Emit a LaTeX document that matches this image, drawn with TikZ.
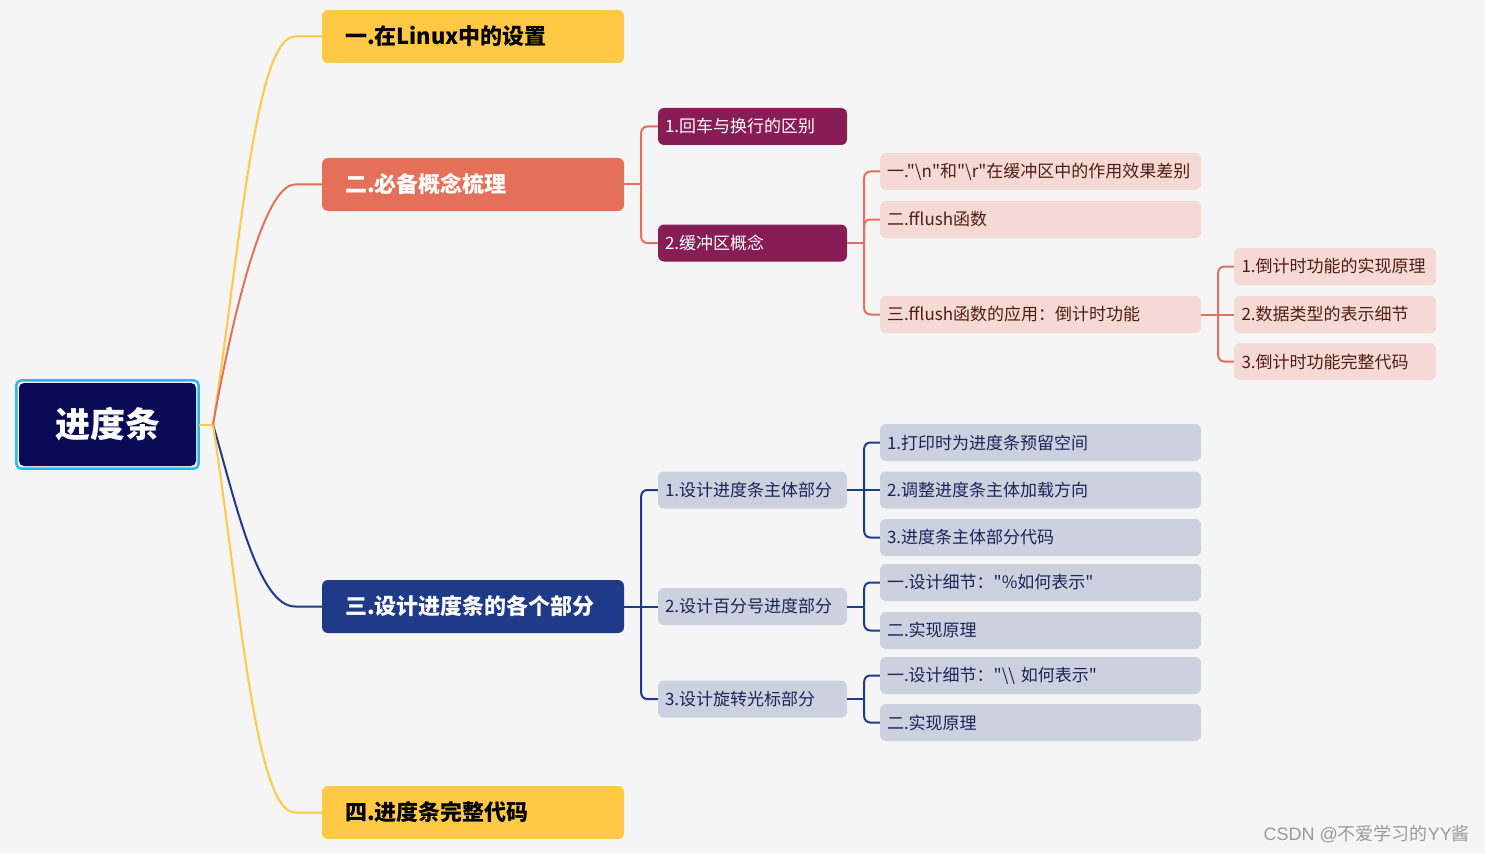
\documentclass[tikz,border=0pt]{standalone}
\usepackage{fontspec}
\setmainfont{Noto Sans CJK SC}[Ligatures=TeXOff]
\newfontfamily\wmfont{Liberation Sans}
\usetikzlibrary{calc}
\definecolor{bgc}{HTML}{F5F5F5}
\definecolor{yel}{HTML}{FFC845}
\definecolor{ora}{HTML}{E5705A}
\definecolor{pur}{HTML}{871D54}
\definecolor{pnk}{HTML}{F5D9D5}
\definecolor{pnktxt}{HTML}{4E1E14}
\definecolor{blu}{HTML}{1F3A88}
\definecolor{gry}{HTML}{CBD1DF}
\definecolor{grytxt}{HTML}{1C2458}
\definecolor{nav}{HTML}{0A0A56}
\definecolor{cya}{HTML}{2DB6F5}
\definecolor{wm}{HTML}{9A9A9A}
\begin{document}
\begin{tikzpicture}[x=1pt,y=-1pt,
  box/.style={rounded corners=6pt, inner ysep=0pt, align=left, anchor=center},
  lone/.style={box, minimum width=302pt, minimum height=53pt, text width=256pt, inner xsep=23pt, font=\fontsize{22}{26}\selectfont\bfseries},
  ltwo/.style={box, minimum width=189pt, minimum height=37pt, text width=175pt, inner xsep=7pt, font=\fontsize{17}{20}\selectfont},
  lthree/.style={box, minimum width=321pt, minimum height=37pt, text width=307pt, inner xsep=7pt, font=\fontsize{17}{20}\selectfont},
  lfour/.style={box, minimum width=202pt, minimum height=37pt, text width=187pt, inner xsep=7.5pt, font=\fontsize{17}{20}\selectfont},
  conn/.style={line width=2pt, rounded corners=6pt},
  curv/.style={line width=2pt},
]
\fill[bgc] (0,0) rectangle (1485,853);
\useasboundingbox (0,0) rectangle (1485,853);

% root
\node[box, fill=nav, minimum width=177pt, minimum height=83pt, rounded corners=5pt, text=white, align=center, font=\fontsize{35}{40}\selectfont\bfseries] (root) at (107.5,424.5) {进度条};
\draw[cya, line width=2.5pt, rounded corners=5pt] ($(root.south west)+(-2.5,2.5)$) rectangle ($(root.north east)+(2.5,-2.5)$);
\coordinate (rj) at (213,424.5);
\draw[yel, curv] ($(root.east)+(2.5,0)$) -- (rj);

% level 1
\node[lone, fill=yel, text=black] (n1) at (473,36.5) {一.在Linux中的设置};
\node[lone, fill=ora, text=white] (n2) at (473,184.5) {二.必备概念梳理};
\node[lone, fill=blu, text=white] (n3) at (473,606.5) {三.设计进度条的各个部分};
\node[lone, fill=yel, text=black] (n4) at (473,812.5) {四.进度条完整代码};

\draw[yel, curv] (rj) .. controls (240,250) and (255,36.5) .. (295,36.5) -- (n1.west);
\draw[ora, curv] (rj) .. controls (230,330) and (262,184.5) .. (295,184.5) -- (n2.west);
\draw[blu, curv] (rj) .. controls (235,500) and (258,606.5) .. (295,606.5) -- (n3.west);
\draw[yel, curv] (rj) .. controls (240,600) and (255,812.5) .. (295,812.5) -- (n4.west);

% level 2 under n2
\node[ltwo, fill=pur, text=white] (a1) at (752.5,126.5) {1.回车与换行的区别};
\node[ltwo, fill=pur, text=white] (a2) at (752.5,243) {2.缓冲区概念};
\coordinate (j2) at ($(n2.east)+(17,0)$);
\draw[ora, conn] (n2.east) -- (j2);
\draw[ora, conn] (j2) |- (a1.west);
\draw[ora, conn] (j2) |- (a2.west);

% level 3 under a2
\node[lthree, fill=pnk, text=pnktxt] (b1) at (1040.5,171.5) {一."\textbackslash n"和"\textbackslash r"在缓冲区中的作用效果差别};
\node[lthree, fill=pnk, text=pnktxt] (b2) at (1040.5,219.5) {二.fflush函数};
\node[lthree, fill=pnk, text=pnktxt] (b3) at (1040.5,314.5) {三.fflush函数的应用：倒计时功能};
\coordinate (ja2) at ($(a2.east)+(17,0)$);
\draw[ora, conn] (a2.east) -- (ja2);
\draw[ora, conn] (ja2) |- (b1.west);
\draw[ora, conn] (ja2) |- (b2.west);
\draw[ora, conn] (ja2) |- (b3.west);

% level 4 under b3
\node[lfour, fill=pnk, text=pnktxt] (c1) at (1335,266.5) {1.倒计时功能的实现原理};
\node[lfour, fill=pnk, text=pnktxt] (c2) at (1335,314.5) {2.数据类型的表示细节};
\node[lfour, fill=pnk, text=pnktxt] (c3) at (1335,361.5) {3.倒计时功能完整代码};
\coordinate (jb3) at ($(b3.east)+(17,0)$);
\draw[ora, conn] (b3.east) -- (jb3);
\draw[ora, conn] (jb3) |- (c1.west);
\draw[ora, conn] (jb3) -- (c2.west);
\draw[ora, conn] (jb3) |- (c3.west);

% level 2 under n3
\node[ltwo, fill=gry, text=grytxt] (d1) at (752.5,490) {1.设计进度条主体部分};
\node[ltwo, fill=gry, text=grytxt] (d2) at (752.5,606.5) {2.设计百分号进度部分};
\node[ltwo, fill=gry, text=grytxt] (d3) at (752.5,699) {3.设计旋转光标部分};
\coordinate (j3) at ($(n3.east)+(17,0)$);
\draw[blu, conn] (n3.east) -- (j3);
\draw[blu, conn] (j3) |- (d1.west);
\draw[blu, conn] (j3) -- (d2.west);
\draw[blu, conn] (j3) |- (d3.west);

% level 3 under d1
\node[lthree, fill=gry, text=grytxt] (e1) at (1040.5,442.5) {1.打印时为进度条预留空间};
\node[lthree, fill=gry, text=grytxt] (e2) at (1040.5,490) {2.调整进度条主体加载方向};
\node[lthree, fill=gry, text=grytxt] (e3) at (1040.5,537.5) {3.进度条主体部分代码};
\coordinate (jd1) at ($(d1.east)+(17,0)$);
\draw[blu, conn] (d1.east) -- (jd1);
\draw[blu, conn] (jd1) |- (e1.west);
\draw[blu, conn] (jd1) -- (e2.west);
\draw[blu, conn] (jd1) |- (e3.west);

% level 3 under d2
\node[lthree, fill=gry, text=grytxt] (f1) at (1040.5,582.5) {一.设计细节："\%如何表示"};
\node[lthree, fill=gry, text=grytxt] (f2) at (1040.5,630.5) {二.实现原理};
\coordinate (jd2) at ($(d2.east)+(17,0)$);
\draw[blu, conn] (d2.east) -- (jd2);
\draw[blu, conn] (jd2) |- (f1.west);
\draw[blu, conn] (jd2) |- (f2.west);

% level 3 under d3
\node[lthree, fill=gry, text=grytxt] (g1) at (1040.5,675.5) {一.设计细节："\textbackslash\textbackslash\ 如何表示"};
\node[lthree, fill=gry, text=grytxt] (g2) at (1040.5,722.5) {二.实现原理};
\coordinate (jd3) at ($(d3.east)+(17,0)$);
\draw[blu, conn] (d3.east) -- (jd3);
\draw[blu, conn] (jd3) |- (g1.west);
\draw[blu, conn] (jd3) |- (g2.west);

% watermark
\node[anchor=east, text=wm, inner sep=0pt, font=\fontsize{18}{20}\selectfont] (wmk) at (1470,834) {{\wmfont CSDN @}不爱学习的{\wmfont YY}酱};
\end{tikzpicture}
\end{document}
